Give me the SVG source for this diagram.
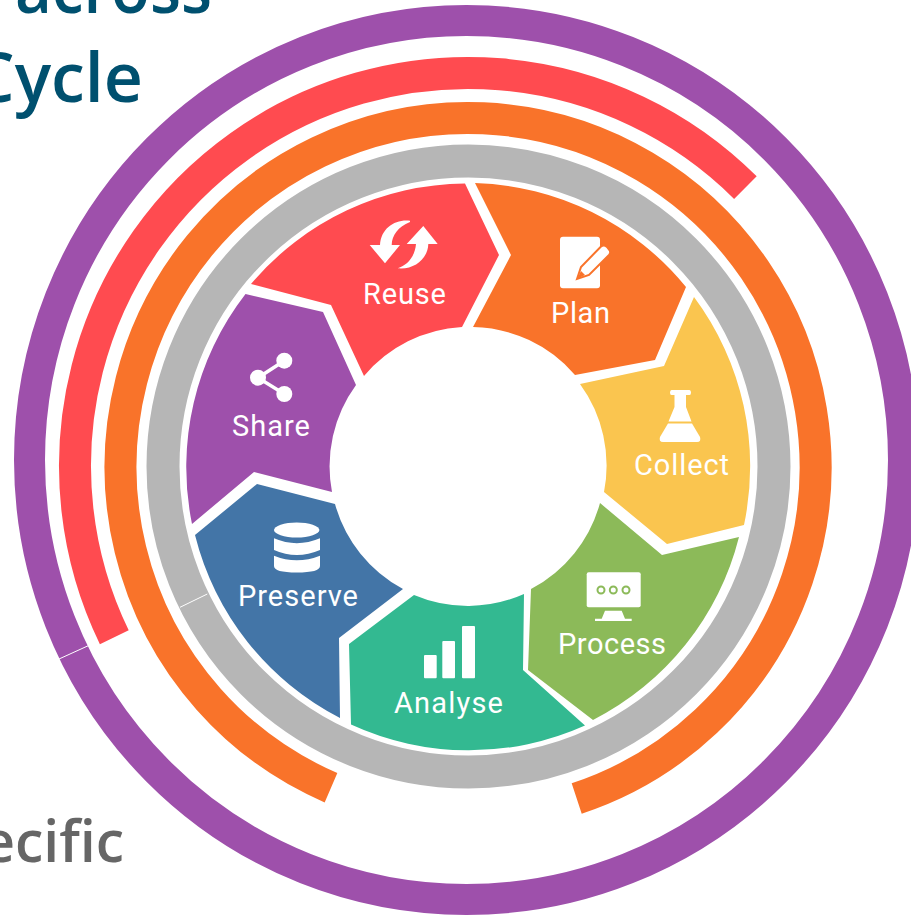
<svg xmlns="http://www.w3.org/2000/svg" width="911" height="916" viewBox="0 0 911 916">
<style>
.ring{fill:none;stroke-width:32}
.sep{stroke:#fff;stroke-width:1;fill:none}
.lbl{font-family:"Roboto","Liberation Sans",sans-serif;font-size:29px;fill:#fff}
.ttl{font-family:"Open Sans","Liberation Sans",sans-serif;font-weight:600;font-size:68px;fill:#00506f}
.ico{fill:#fff}
</style>
<rect width="911" height="916" fill="#fff"/>
<text class="ttl" x="15" y="13" textLength="197" lengthAdjust="spacingAndGlyphs">across</text>
<text class="ttl" x="143" y="102" style="text-anchor:end">Cycle</text>
<text class="ttl" x="124" y="862" style="text-anchor:end;fill:#666;font-size:57px">ecific</text>
<g id="rings">
<ellipse class="ring" cx="466.5" cy="460" rx="437" ry="439.5" stroke="#9E50AB" style="stroke-width:31"/>
<path class="ring" stroke="#FF4B50" d="M745.4,187.6A393,393 0 0 0 114.3,637.3"/>
<path class="ring" stroke="#F9732A" d="M576.7,798.500A347.500,349 0 1 0 331,787.700"/>
<circle class="ring" cx="468.500" cy="466.5" r="305.500" stroke="#B6B6B6" style="stroke-width:33"/>
<path class="sep" d="M59,659L88.3,645.7M180,607.3L207.3,594"/>
</g>
<g id="plan">
<path fill="#F9732A" d="M475,183A283,283 0 0 1 686,287L655,360L575,375A138,138 0 0 0 473,327L511,255Z"/>
<rect class="ico" x="560" y="236.7" width="40" height="51.6" rx="3"/>
<path d="M577,279L581,267L601,246.5Q604,244 607,247L609,249.500Q611.500,252 609,255L589,275Z" fill="#fff" stroke="#F9732A" stroke-width="2"/>
<path d="M577,279L581,271L585,275Z" fill="#F9732A"/>
<text class="lbl" x="551" y="323" textLength="59">Plan</text>
</g>
<g id="collect">
<path fill="#FAC54F" d="M694,297A283,283 0 0 1 744,525L667,544L604,492A138,138 0 0 0 580,384L664,366Z"/>
<path class="ico" d="M671.500,390H689.500Q691,390 691,392.500Q691,395 689.500,395H686V407L691.500,421.500H668.500L674.500,407V395H671.500Q670,395 670,392.500Q670,390 671.500,390Z"/>
<path class="ico" d="M668,423.500H692L700,437Q701.500,442 697,442H663Q658.500,442 660,437Z"/>
<text class="lbl" x="634" y="475" textLength="95">Collect</text>
</g>
<g id="process">
<path fill="#8CBA59" d="M739,537A283,283 0 0 1 593,720L528,670L531,589A138,138 0 0 0 600,503L662,555Z"/>
<rect class="ico" x="586.700" y="572.300" width="54" height="35" rx="2"/>
<g fill="#fff" stroke="#8CBA59" stroke-width="2"><circle cx="601" cy="590" r="3.500"/><circle cx="613.300" cy="590" r="3.500"/><circle cx="626" cy="590" r="3.500"/></g>
<path class="ico" d="M605,610.700H621.700L625,618.700H631.700V621H595V618.700H601.700Z"/>
<text class="lbl" x="558" y="654" textLength="108">Process</text>
</g>
<g id="analyse">
<path fill="#33B991" d="M585,725.500A283,283 0 0 1 351,724.500L349,644L414,595A138,138 0 0 0 524,594L523,670Z"/>
<rect class="ico" x="424" y="655" width="12.700" height="23.300" rx="1"/>
<rect class="ico" x="442.300" y="641" width="12.700" height="37.300" rx="1"/>
<rect class="ico" x="462" y="626" width="13" height="52.300" rx="1"/>
<text class="lbl" x="394" y="713" textLength="109">Analyse</text>
</g>
<g id="preserve">
<path fill="#4375A7" d="M340,718A283,283 0 0 1 195,535L257,484L335,504A138,138 0 0 0 403,589L339,638Z"/>
<ellipse class="ico" cx="296.700" cy="530" rx="22.700" ry="7.500"/>
<path class="ico" d="M274,538.300Q296.700,548 320,538.300V550Q296.700,560 274,550Z"/>
<path class="ico" d="M274,555.700Q296.700,565 320,555.700V566Q320,572.500 296.700,572.500Q274,572.500 274,566Z"/>
<text class="lbl" x="238" y="606" textLength="120">Preserve</text>
</g>
<g id="share">
<path fill="#9E50AB" d="M192,524A283,283 0 0 1 245.500,294L323,312L356,385A138,138 0 0 0 332,492L254,472Z"/>
<circle class="ico" cx="284.300" cy="360.700" r="8"/>
<circle class="ico" cx="258" cy="377.700" r="8"/>
<circle class="ico" cx="284.300" cy="394" r="8"/>
<path d="M284.300,360.700L258,377.700L284.300,394" fill="none" stroke="#fff" stroke-width="3.500"/>
<text class="lbl" x="232" y="436" textLength="78">Share</text>
</g>
<g id="reuse">
<path fill="#FF4B50" d="M251,284A283,283 0 0 1 465,183.500L499,255L462,327A138,138 0 0 0 364,376L331,305Z"/>
<path class="ico" d="M410,220.700C395,219 381,228 380,245H369.700L385,263.300L400,245H391.700C392,235 398,227 410,222Z"/>
<path class="ico" d="M406.700,244L423.300,226L437.700,244H428.300C428,258 415,270 397.700,268.300C408,265 415,256 416,244Z"/>
<text class="lbl" x="363" y="304" textLength="83">Reuse</text>
</g>
</svg>
